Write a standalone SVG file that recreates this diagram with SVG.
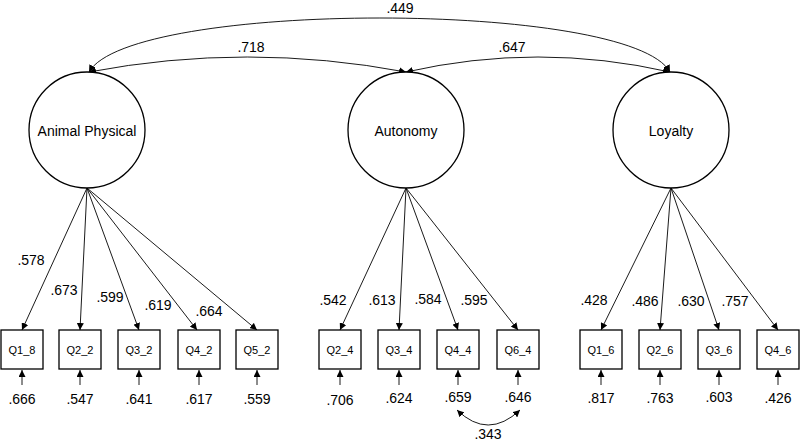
<svg xmlns="http://www.w3.org/2000/svg" width="800" height="443" viewBox="0 0 800 443">
<style>
text{font-family:"Liberation Sans",Arial,sans-serif;fill:#000;text-anchor:middle}
.lat{font-size:14px}
.num{font-size:14px}
.obs{font-size:11px}
circle{fill:#fff;stroke:#000;stroke-width:1.3}
rect{fill:#fff;stroke:#000;stroke-width:1.3}
.c{fill:none;stroke:#000;stroke-width:0.9}
</style>
<defs>
<marker id="ah" viewBox="0 0 10 10" refX="10" refY="5" markerWidth="7" markerHeight="7" markerUnits="userSpaceOnUse" orient="auto-start-reverse">
<path d="M0,0 L10,5 L0,10 z" fill="#000"/>
</marker>
</defs>
<g id="connectors">
<path class="c" d="M89,72 C130,0 630,0 670,72" marker-start="url(#ah)" marker-end="url(#ah)"/>
<path class="c" d="M89,72 Q247,42 406,72" marker-start="url(#ah)" marker-end="url(#ah)"/>
<path class="c" d="M406,72 Q538,42 670,72" marker-start="url(#ah)" marker-end="url(#ah)"/>
<line class="c" x1="87" y1="188" x2="22" y2="330" marker-end="url(#ah)"/>
<line class="c" x1="87" y1="188" x2="80" y2="330" marker-end="url(#ah)"/>
<line class="c" x1="87" y1="188" x2="139" y2="330" marker-end="url(#ah)"/>
<line class="c" x1="87" y1="188" x2="197" y2="330" marker-end="url(#ah)"/>
<line class="c" x1="87" y1="188" x2="257" y2="330" marker-end="url(#ah)"/>
<line class="c" x1="406" y1="188" x2="340" y2="330" marker-end="url(#ah)"/>
<line class="c" x1="406" y1="188" x2="399" y2="330" marker-end="url(#ah)"/>
<line class="c" x1="406" y1="188" x2="458" y2="330" marker-end="url(#ah)"/>
<line class="c" x1="406" y1="188" x2="518" y2="330" marker-end="url(#ah)"/>
<line class="c" x1="671" y1="188" x2="601" y2="330" marker-end="url(#ah)"/>
<line class="c" x1="671" y1="188" x2="660" y2="330" marker-end="url(#ah)"/>
<line class="c" x1="671" y1="188" x2="719" y2="330" marker-end="url(#ah)"/>
<line class="c" x1="671" y1="188" x2="778" y2="330" marker-end="url(#ah)"/>
<line class="c" x1="22" y1="385" x2="22" y2="370" marker-end="url(#ah)"/>
<line class="c" x1="80" y1="385" x2="80" y2="370" marker-end="url(#ah)"/>
<line class="c" x1="139" y1="385" x2="139" y2="370" marker-end="url(#ah)"/>
<line class="c" x1="199" y1="385" x2="199" y2="370" marker-end="url(#ah)"/>
<line class="c" x1="257" y1="385" x2="257" y2="370" marker-end="url(#ah)"/>
<line class="c" x1="340" y1="385" x2="340" y2="370" marker-end="url(#ah)"/>
<line class="c" x1="399" y1="385" x2="399" y2="370" marker-end="url(#ah)"/>
<line class="c" x1="458" y1="385" x2="458" y2="370" marker-end="url(#ah)"/>
<line class="c" x1="518" y1="385" x2="518" y2="370" marker-end="url(#ah)"/>
<line class="c" x1="601" y1="385" x2="601" y2="370" marker-end="url(#ah)"/>
<line class="c" x1="660" y1="385" x2="660" y2="370" marker-end="url(#ah)"/>
<line class="c" x1="719" y1="385" x2="719" y2="370" marker-end="url(#ah)"/>
<line class="c" x1="778" y1="385" x2="778" y2="370" marker-end="url(#ah)"/>
<path class="c" d="M457,410 Q488,440 520,410" marker-start="url(#ah)" marker-end="url(#ah)"/>
</g>
<g id="labels">
<text class="num" x="400" y="13">.449</text>
<text class="num" x="251" y="52">.718</text>
<text class="num" x="512" y="52">.647</text>
<text class="num" x="31" y="265">.578</text>
<text class="num" x="64" y="295">.673</text>
<text class="num" x="110" y="302">.599</text>
<text class="num" x="158" y="310">.619</text>
<text class="num" x="209" y="316">.664</text>
<text class="num" x="333" y="305">.542</text>
<text class="num" x="382" y="305">.613</text>
<text class="num" x="428" y="304">.584</text>
<text class="num" x="474" y="305">.595</text>
<text class="num" x="594" y="305">.428</text>
<text class="num" x="645" y="306">.486</text>
<text class="num" x="691" y="306">.630</text>
<text class="num" x="735" y="306">.757</text>
<text class="num" x="22" y="404">.666</text>
<text class="num" x="80" y="404">.547</text>
<text class="num" x="139" y="404">.641</text>
<text class="num" x="199" y="404">.617</text>
<text class="num" x="257" y="404">.559</text>
<text class="num" x="340" y="405">.706</text>
<text class="num" x="399" y="403">.624</text>
<text class="num" x="458" y="402">.659</text>
<text class="num" x="518" y="402">.646</text>
<text class="num" x="601" y="403">.817</text>
<text class="num" x="660" y="403">.763</text>
<text class="num" x="719" y="402">.603</text>
<text class="num" x="778" y="403">.426</text>
<text class="num" x="488" y="439">.343</text>
</g>
<g id="animal-physical"><circle cx="87" cy="130" r="58"/><text class="lat" x="87" y="136">Animal Physical</text></g>
<g id="autonomy"><circle cx="406" cy="130" r="58"/><text class="lat" x="406" y="136">Autonomy</text></g>
<g id="loyalty"><circle cx="671" cy="130" r="58"/><text class="lat" x="671" y="136">Loyalty</text></g>
<g id="Q1_8"><rect x="1" y="330" width="42" height="39"/><text class="obs" x="22" y="354">Q1_8</text></g>
<g id="Q2_2"><rect x="59" y="330" width="42" height="39"/><text class="obs" x="80" y="354">Q2_2</text></g>
<g id="Q3_2"><rect x="118" y="330" width="42" height="39"/><text class="obs" x="139" y="354">Q3_2</text></g>
<g id="Q4_2"><rect x="178" y="330" width="42" height="39"/><text class="obs" x="199" y="354">Q4_2</text></g>
<g id="Q5_2"><rect x="236" y="330" width="42" height="39"/><text class="obs" x="257" y="354">Q5_2</text></g>
<g id="Q2_4"><rect x="319" y="330" width="42" height="39"/><text class="obs" x="340" y="354">Q2_4</text></g>
<g id="Q3_4"><rect x="378" y="330" width="42" height="39"/><text class="obs" x="399" y="354">Q3_4</text></g>
<g id="Q4_4"><rect x="437" y="330" width="42" height="39"/><text class="obs" x="458" y="354">Q4_4</text></g>
<g id="Q6_4"><rect x="497" y="330" width="42" height="39"/><text class="obs" x="518" y="354">Q6_4</text></g>
<g id="Q1_6"><rect x="580" y="330" width="42" height="39"/><text class="obs" x="601" y="354">Q1_6</text></g>
<g id="Q2_6"><rect x="639" y="330" width="42" height="39"/><text class="obs" x="660" y="354">Q2_6</text></g>
<g id="Q3_6"><rect x="698" y="330" width="42" height="39"/><text class="obs" x="719" y="354">Q3_6</text></g>
<g id="Q4_6"><rect x="757" y="330" width="42" height="39"/><text class="obs" x="778" y="354">Q4_6</text></g>
</svg>
